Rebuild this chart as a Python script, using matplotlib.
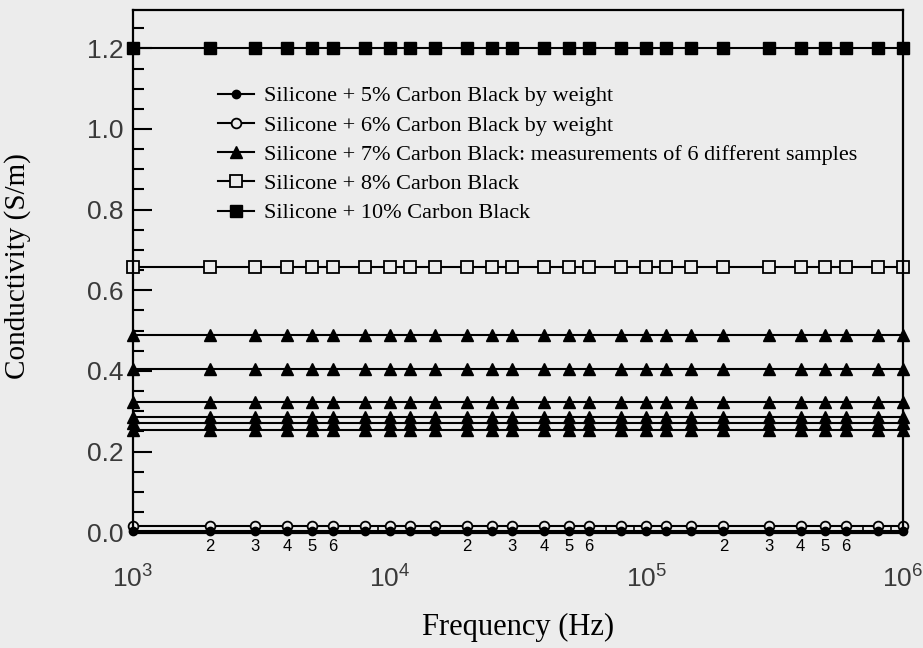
import matplotlib
matplotlib.use("Agg")
import matplotlib.pyplot as plt
import numpy as np
from matplotlib.ticker import FixedLocator, FuncFormatter, MultipleLocator

plt.rcParams['mathtext.fontset'] = 'custom'
plt.rcParams['mathtext.rm'] = 'Liberation Sans'
plt.rcParams['mathtext.it'] = 'Liberation Sans'

# Frequencies (Hz) at which the measurements were taken
freq = [1e3, 2e3, 3e3, 4e3, 5e3, 6e3, 8e3, 1e4, 1.2e4, 1.5e4, 2e4, 2.5e4, 3e4,
        4e4, 5e4, 6e4, 8e4, 1e5, 1.2e5, 1.5e5, 2e5, 3e5, 4e5, 5e5, 6e5, 8e5, 1e6]

# Conductivity levels (S/m), constant over frequency
cond_5 = 0.003
cond_6 = 0.015
cond_7_samples = [0.49, 0.405, 0.322, 0.286, 0.271, 0.254]
cond_8 = 0.657
cond_10 = 1.2

labels = ["Silicone + 5% Carbon Black by weight",
          "Silicone + 6% Carbon Black by weight",
          "Silicone + 7% Carbon Black: measurements of 6 different samples",
          "Silicone + 8% Carbon Black",
          "Silicone + 10% Carbon Black"]

bg = '#ececec'
fig = plt.figure(figsize=(9.23, 6.48), dpi=100, facecolor=bg)
ax = fig.add_axes([0.144, 0.1775, 0.834, 0.807])
ax.set_facecolor(bg)

n = len(freq)
lw = 1.5
common = dict(color='black', lw=lw, clip_on=False)

h10, = ax.plot(freq, [cond_10] * n, marker='s', ms=9, mfc='black', mec='black', **common)
h8, = ax.plot(freq, [cond_8] * n, marker='s', ms=9, mfc=bg, mec='black', mew=1.3, **common)
h7 = None
for i, c in enumerate(cond_7_samples):
    h, = ax.plot(freq, [c] * n, marker='^', ms=9, mfc='black', mec='black', **common)
    if i == 0:
        h7 = h
h6, = ax.plot(freq, [cond_6] * n, marker='o', ms=7, mfc=bg, mec='black', mew=1.3, **common)
h5, = ax.plot(freq, [cond_5] * n, marker='o', ms=6, mfc='black', mec='black', **common)

ax.set_xscale('log')
ax.set_xlim(1e3, 1e6)
ax.set_ylim(-0.002, 1.295)

# Y ticks
ax.set_yticks([0.0, 0.2, 0.4, 0.6, 0.8, 1.0, 1.2])
ax.set_yticklabels(['0.0', '0.2', '0.4', '0.6', '0.8', '1.0', '1.2'])
ax.yaxis.set_minor_locator(MultipleLocator(0.05))
ax.tick_params(axis='y', which='major', direction='in', length=13.5, width=1.5, pad=7,
               labelsize=19, labelcolor='#3a3a3a', right=False)
ax.tick_params(axis='y', which='minor', direction='in', length=8, width=1.5, right=False)

# X ticks
ax.xaxis.set_major_locator(FixedLocator([1e3, 1e4, 1e5, 1e6]))
ax.xaxis.set_major_formatter(FuncFormatter(lambda v, p: r'$10^{%d}$' % int(round(np.log10(v)))))
minor = [m * 10 ** e for e in (3, 4, 5) for m in range(2, 10)]
ax.xaxis.set_minor_locator(FixedLocator(minor))


def minor_fmt(v, p):
    m = int(round(v / 10 ** np.floor(np.log10(v) + 1e-9)))
    return str(m) if m <= 6 else ''


ax.xaxis.set_minor_formatter(FuncFormatter(minor_fmt))
ax.tick_params(axis='x', which='major', direction='in', length=9, width=1.5, pad=24,
               labelsize=19, labelcolor='#3a3a3a', top=False)
ax.tick_params(axis='x', which='minor', direction='in', length=5, width=1.2, pad=4,
               labelsize=12, labelcolor='black', top=False)
for lab in ax.get_xticklabels(minor=True):
    lab.set_family('Liberation Sans')
for lab in ax.get_yticklabels():
    lab.set_family('Liberation Sans')

for s in ax.spines.values():
    s.set_linewidth(1.6)

ax.set_xlabel('Frequency (Hz)', fontsize=22, family='Liberation Serif', labelpad=14)
ax.set_ylabel('Conductivity (S/m)', fontsize=21, family='Liberation Serif')
ax.yaxis.set_label_coords(-0.132, 0.51)

leg = ax.legend([h5, h6, h7, h8, h10], labels, loc='upper left', bbox_to_anchor=(0.110, 0.855),
                frameon=False, prop={'family': 'Liberation Serif', 'size': 16},
                handlelength=1.65, handletextpad=0.45, labelspacing=0.39, borderpad=0, borderaxespad=0)

fig.savefig('out.png', dpi=100, facecolor=bg)
